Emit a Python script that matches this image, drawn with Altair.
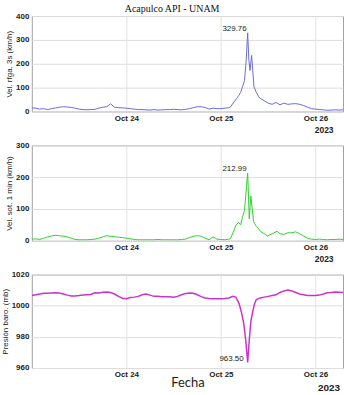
import altair as alt
import pandas as pd

# ---- data (hours after 2023-10-23 00:00, values) ----
gust_hours = [0,1,2,3,4,5,6,7,8,9,10,11,12,13,14,15,16,17,18,19,20,21,22,23,
              24,25,26,27,28,29,30,31,32,33,34,35,36,37,38,39,40,41,42,43,44,45,46,47,
              48,49,50,50.5,51.3,52,52.6,53,53.5,54,54.4,54.8,55.1,55.4,55.8,56.4,57,57.6,58,59,60,61,62,63,64,65,66,67,68,69,70,71,72,73,74,75,76,77,78,79]
gust_vals = [15,14,10,12,8,12,15,18,20,19,17,14,10,8,7,8,9,14,18,20,32,18,16,15,
             14,12,10,8,8,7,6,8,6,7,8,8,9,8,7,9,12,16,20,20,17,10,14,12,
             12,14,16,20,40,55,68,80,104,130,210,329.76,215,172,235,104,80,62,55,45,35,30,38,28,35,30,32,33,30,25,18,12,10,8,7,5,6,7,6,7]

sust_hours = [0,1,2,3,4,5,6,7,8,9,10,11,12,13,14,15,16,17,18,19,20,21,22,23,
              24,25,26,27,28,29,30,31,32,33,34,35,36,37,38,39,40,41,42,43,44,45,46,47,
              48,49,50,50.5,51.8,52.5,53,53.5,54,54.5,54.8,55.2,55.6,56.3,57,57.6,58,59,59.8,61,62.3,63,64,65,66,67,68,69,70,71,72,73,74,75,76,77,78,79]
sust_vals = [5,6,4,8,12,15,17,16,14,12,8,4,3,3,3,4,5,8,12,16,14,13,11,10,
             8,6,4,3,3,3,3,3,4,3,3,3,3,3,4,5,10,14,16,14,8,3,12,5,
             4,3,5,8,48,58,50,75,95,170,212.99,69,141,60,45,37,30,22,15,22,30,22,20,25,25,28,22,15,8,5,4,5,4,3,4,4,5,4]

pres_hours = [0,1,2,3,4,5,6,7,8,9,10,11,12,13,14,15,16,17,18,19,20,21,22,23,
              24,25,26,27,28,29,30,31,32,33,34,35,36,37,38,39,40,41,42,43,44,45,46,47,
              48,49,50,51,51.8,52.6,53.2,53.8,54.3,54.8,55.2,55.6,56,56.5,57,58,59,60,61,62,63,64,65,66,67,68,69,70,71,72,73,74,75,76,77,78,79]
pres_vals = [1006.5,1007,1007.5,1008,1008,1008.2,1008.3,1008.2,1007.5,1006.8,1006.3,1006.3,1006.5,1006.8,1007,1007.2,1008.3,1008.2,1008.6,1008.8,1008.5,1007.5,1006,1004.8,
             1004.5,1005.2,1005.5,1006,1007,1007.5,1006.8,1006,1006,1005.8,1005.8,1005.8,1005.5,1006,1007,1007.8,1008.2,1008,1007,1005.8,1005,1004.6,1004.5,1004.5,
             1004.5,1004.6,1005,1006,1005.5,1001.5,996,988.7,978,963.5,978,990,995,1001,1004,1005,1005.5,1006,1006.5,1007,1008.5,1009.5,1010,1009.5,1008.5,1007.5,1007,1006.5,1006.5,1006.5,1006.8,1007.5,1008.3,1008.5,1008.8,1008.7,1008.5]

x_ticks = ["2023-10-24", "2023-10-25", "2023-10-26"]

T0 = pd.Timestamp("2023-10-23")


def frame(hours, vals):
    return pd.DataFrame({"time": T0 + pd.to_timedelta(hours, unit="h"), "v": vals})


x_domain = [alt.DateTime(year=2023, month=10, date=23),
            alt.DateTime(year=2023, month=10, date=26, hours=7)]
x_vals = [alt.DateTime(year=2023, month=10, date=int(d[-2:])) for d in x_ticks]

W = 313


def panel(hours, vals, color, ytitle, ydomain, yticks, height, fmt, xtitle, stroke_w, label_dx, extra=None):
    df = frame(hours, vals)
    i = max(range(len(vals)), key=lambda k: vals[k]) if ydomain[0] == 0 else min(range(len(vals)), key=lambda k: vals[k])
    ann = pd.DataFrame({"time": [df["time"][i]], "v": [vals[i]], "lab": [format(vals[i], fmt)]})
    if xtitle == "2023":
        xaxis = alt.Axis(values=x_vals, format="%b %d", title="2023", titleAnchor="end",
                         titleAlign="right", titleX=W - 10, titleY=18, titleBaseline="middle",
                         titleFontWeight="bold", titleFontSize=8.5)
    else:
        xaxis = alt.Axis(values=x_vals, format="%b %d", title=xtitle, titleFont="Lato",
                         titleFontSize=13, titleFontWeight="normal", titleY=9, titleBaseline="top",
                         titleX=W / 2)
    x = alt.X("time:T", scale=alt.Scale(domain=x_domain), axis=xaxis)
    y = alt.Y("v:Q", scale=alt.Scale(domain=ydomain, nice=False, zero=False),
              axis=alt.Axis(values=yticks, title=ytitle, format="d", labelOverlap=False,
                            grid=True, gridColor="#dedede"))
    line = alt.Chart(df).mark_line(color=color, strokeWidth=stroke_w, clip=True).encode(x=x, y=y)
    txt = alt.Chart(ann).mark_text(align="right", baseline="bottom", dx=label_dx, dy=0,
                                   font="Liberation Sans", fontSize=8, color="#222").encode(
        x=x, y=y, text="lab:N")
    layers = [line, txt]
    if extra is not None:
        layers.append(extra)
    return alt.layer(*layers).properties(width=W, height=height)


p1 = panel(gust_hours, gust_vals, "#6b6bd8", "Vel. rfga. 3s (km/h)", [0, 400], [0, 100, 200, 300, 400],
           96, ".2f", "2023", 1, -1)
p2 = panel(sust_hours, sust_vals, "#2fd12f", "Vel. sot. 1 min (km/h)", [0, 300], [0, 100, 200, 300],
           96, ".2f", "2023", 1, -1)
year3 = alt.Chart(pd.DataFrame({"t": ["2023"]})).mark_text(
    align="right", baseline="middle", font="Liberation Sans", fontSize=10, fontWeight="bold", color="#222"
).encode(text="t:N", x=alt.value(W - 3), y=alt.value(114))
p3 = panel(pres_hours, pres_vals, "#cc33cc", "Presión baro. (mb)", [960, 1020], [960, 980, 1000, 1020],
           94, ".2f", "Fecha", 1.5, -4, extra=year3)

chart = alt.vconcat(p1, p2, p3, spacing=34, bounds="flush").properties(
    title=alt.TitleParams("Acapulco API - UNAM", font="Liberation Serif", fontSize=10,
                          fontWeight="normal", anchor="middle", offset=0, color="#111", dy=2),
    padding={"left": 0, "top": 2, "right": 0, "bottom": 0},
).configure_view(stroke="#a0a0a0", strokeWidth=1).configure_axis(
    domain=False, ticks=False, grid=True, gridColor="#e2e2e2",
    labelFont="Liberation Sans", labelFontSize=8, labelFontWeight="bold", labelColor="#222",
    labelPadding=3, titleFont="Liberation Sans", titleFontSize=8, titleFontWeight="normal",
    titleColor="#222", titlePadding=2
).configure_concat(spacing=34)

chart.save("out.html", embed_options={"renderer": "svg", "actions": False})
